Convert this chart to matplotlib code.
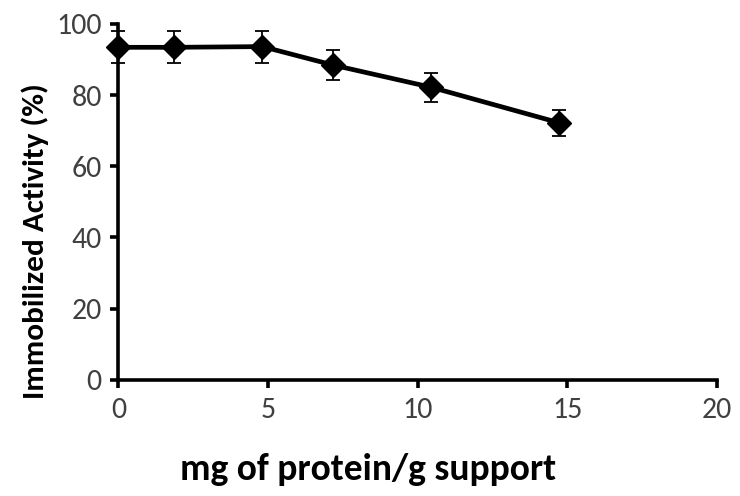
import matplotlib
matplotlib.use("Agg")
import matplotlib.pyplot as plt

# values
protein = [0, 1.86, 4.81, 7.18, 10.44, 14.73]
activity = [93.4, 93.4, 93.6, 88.4, 82.2, 72.2]
errors = [4.5, 4.5, 4.5, 4.3, 4.1, 3.6]

xTicks = [0, 5, 10, 15, 20]
yTicks = [0, 20, 40, 60, 80, 100]

# Carlito has Calibri's metrics
plt.rcParams["font.family"] = ["Carlito", "Lato", "DejaVu Sans"]

fig = plt.figure(figsize=(7.4, 4.96), dpi=100)
ax = fig.add_axes([0.160, 0.234, 0.809, 0.718])

ax.errorbar(protein, activity, yerr=errors, color="black", linewidth=3.4,
            marker="D", markersize=12.5, elinewidth=1.3, capsize=5, capthick=1.3,
            ecolor="black", zorder=3, clip_on=False)

ax.set_xlim(0, 20)
ax.set_ylim(0, 100)
ax.set_xticks(xTicks)
ax.set_yticks(yTicks)
ax.spines["top"].set_visible(False)
ax.spines["right"].set_visible(False)
for s in ["left", "bottom"]:
    ax.spines[s].set_linewidth(2.6)
ax.tick_params(axis="both", direction="out", length=6, width=2.6,
               labelsize=21.5, labelcolor="#404040", pad=6)

fig.text(0.497, 0.032, "mg of protein/g support", ha="center", va="baseline",
         fontsize=27, fontweight="bold")
fig.text(0.047, 0.514, "Immobilized Activity (%)", ha="center", va="center",
         rotation=90, fontsize=22.5, fontweight="bold")

fig.savefig("out.png", dpi=100)
